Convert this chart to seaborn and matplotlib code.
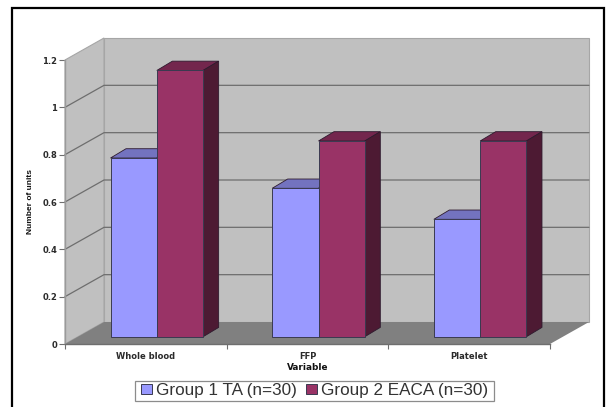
import numpy as np
import pandas as pd
import matplotlib
matplotlib.use("Agg")
import matplotlib.pyplot as plt
from matplotlib.patches import Polygon, Rectangle
from matplotlib.lines import Line2D
from matplotlib.transforms import Affine2D
import seaborn as sns

categories = ["Whole blood", "FFP", "Platelet"]
group_names = ["Group 1 TA (n=30)", "Group 2 EACA (n=30)"]
group1_values = [0.755, 0.627, 0.496]
group2_values = [1.125, 0.827, 0.827]
y_ticks = [0, 0.2, 0.4, 0.6, 0.8, 1, 1.2]
y_tick_labels = ["0", "0.2", "0.4", "0.6", "0.8", "1", "1.2"]
x_label = "Variable"
y_label = "Number of units"

BLUE, RED = "#9999FF", "#993366"
BLUE_TOP, BLUE_SIDE = "#7373BF", "#4D4D80"
RED_TOP, RED_SIDE = "#73264D", "#4D1A33"
WALL, FLOOR, GRID = "#C0C0C0", "#808080", "#6E6E6E"

W, H = 607, 407
WALL_DX, WALL_DY = 39, 22      # depth of the chart box, px
BAR_DX, BAR_DY = 11, 7.3       # bar front offset from the front plane, px
DEPTH_DX, DEPTH_DY = 15.5, 9.3 # bar depth, px

sns.set_style("white")
plt.rcParams["font.family"] = ["Liberation Sans", "DejaVu Sans"]

df = pd.DataFrame({
    "Variable": categories * 2,
    "Units": group1_values + group2_values,
    "Group": [group_names[0]] * 3 + [group_names[1]] * 3,
})

fig = plt.figure(figsize=(W / 100, H / 100), dpi=100, facecolor="white")
ax = fig.add_axes([65 / W, (H - 344) / H, 485 / W, 284 / H])
ax.patch.set_visible(False)

sns.barplot(data=df, x="Variable", y="Units", hue="Group", order=categories,
            hue_order=group_names, palette=[BLUE, RED], width=0.573, gap=0,
            saturation=1, errorbar=None, edgecolor="#3A3A50", linewidth=0.7,
            ax=ax, zorder=5)
ax.set_xlim(-0.5, 2.5)
ax.set_ylim(0, 1.2)
for s in ["top", "right"]:
    ax.spines[s].set_visible(False)
for s in ["left", "bottom"]:
    ax.spines[s].set_color(GRID)
    ax.spines[s].set_linewidth(1.0)
ax.spines["left"].set_color("#9A9A9A")


def disp(x, y):
    return ax.transData.transform((x, y))


def poly(points, face, edge="none", lw=0.0, z=1):
    ax.add_patch(Polygon(points, closed=True, facecolor=face, edgecolor=edge,
                         linewidth=lw, transform=None, clip_on=False, zorder=z))


fig.canvas.draw()
x0, x1 = ax.get_xlim()
y0, y1 = ax.get_ylim()
off = np.array([WALL_DX, WALL_DY])
bl, br, tl, tr = disp(x0, y0), disp(x1, y0), disp(x0, y1), disp(x1, y1)

# walls and floor
poly([bl + off, br + off, tr + off, tl + off], WALL, "#A6A6A6", 0.8, 1)
poly([bl, bl + off, tl + off, tl], WALL, "#A6A6A6", 0.8, 1)
poly([bl, br, br + off, bl + off], FLOOR, "none", 0, 2)

# gridlines on the back and left walls
for v in y_ticks[1:-1]:
    p = disp(x0, v)
    q = disp(x1, v)
    ax.add_line(Line2D([p[0], p[0] + off[0], q[0] + off[0]],
                       [p[1], p[1] + off[1], q[1] + off[1]], color=GRID, lw=0.9,
                       transform=None, clip_on=False, zorder=1.5))

# bars: shift the seaborn fronts and add their 3D faces
shift = Affine2D().translate(BAR_DX, BAR_DY)
bars = [b for c in ax.containers for b in c]
for i, b in enumerate(bars):
    b.set_transform(ax.transData + shift)
    b.set_clip_on(False)
    group = i // len(categories)
    top_c, side_c = (BLUE_TOP, BLUE_SIDE) if group == 0 else (RED_TOP, RED_SIDE)
    xa, xb = b.get_x(), b.get_x() + b.get_width()
    h = b.get_height()
    o = np.array([BAR_DX, BAR_DY])
    d = np.array([DEPTH_DX, DEPTH_DY])
    fl, fr = disp(xa, h) + o, disp(xb, h) + o
    lo = disp(xb, 0) + o
    z = 3 + group
    poly([fl, fr, fr + d, fl + d], top_c, "#2E1A2E", 0.6, z)
    poly([fr, lo, lo + d, fr + d], side_c, "#2E1A2E", 0.6, z)
    b.set_zorder(z + 0.5)

# axes text
WIDE = ["DejaVu Sans", "Liberation Sans"]
ax.set_yticks(y_ticks, y_tick_labels)
ax.set_xticks([-0.5, 0.5, 1.5, 2.5], ["", "", "", ""])
ax.set_xticks([0, 1, 2], categories, minor=True)
ax.tick_params(axis="x", which="major", length=3.4, width=0.8, color=GRID, bottom=True)
ax.tick_params(axis="x", which="minor", length=0, labelsize=6.0, pad=5.5,
               labelcolor="#2A2A2A", bottom=False)
ax.tick_params(axis="y", length=4.6, width=0.8, color=GRID, left=True, labelsize=6.0,
               pad=1, labelcolor="#2A2A2A")
for t in ax.get_xticklabels(minor=True):
    t.set_fontweight("bold")
    t.set_fontfamily(WIDE)
for t in ax.get_yticklabels():
    t.set_fontweight("bold")
    t.set_fontfamily(WIDE)
ax.set_xlabel(x_label, fontsize=6.4, fontweight="bold", color="#111111",
              family=WIDE, va="center")
ax.xaxis.set_label_coords(0.5, -(367.7 - 344) / 284)
ax.set_ylabel(y_label, fontsize=6.0, fontweight="bold", color="#111111")
ax.yaxis.set_label_coords((33.5 - 65) / 485, 0.50)

sns.move_legend(ax, loc="center", bbox_to_anchor=(314.5 / W, (H - 390.5) / H),
                bbox_transform=fig.transFigure, ncol=2, title=None, frameon=False,
                fontsize=12.3, borderpad=0, handlelength=0.65, handleheight=0.55,
                handletextpad=0.25, columnspacing=0.5, borderaxespad=0)
for t in ax.get_legend().get_texts():
    t.set_color("#333333")

# legend box
fig.add_artist(Rectangle((135 / W, (H - 400.5) / H), 359 / W, 19.5 / H,
                         transform=fig.transFigure, fill=False, edgecolor="#8C8C8C",
                         linewidth=0.9))

# outer frame, running off the bottom of the picture
fig.add_artist(Rectangle((12.5 / W, -0.05), (603.5 - 12.5) / W, (H - 7.5) / H + 0.05,
                         transform=fig.transFigure, fill=False, edgecolor="black",
                         linewidth=1.6))

fig.savefig("out.png", dpi=100, facecolor="white")
